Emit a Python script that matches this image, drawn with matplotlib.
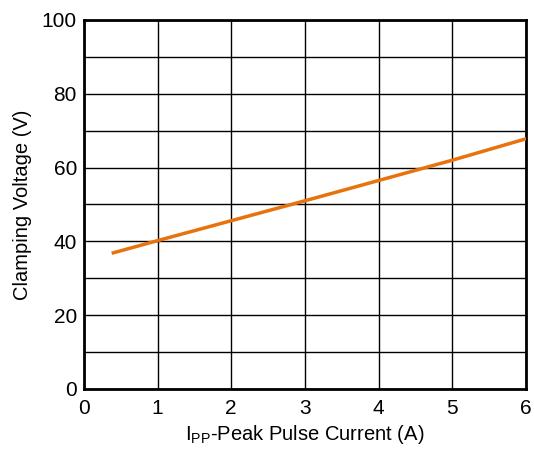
import matplotlib
matplotlib.use('Agg')
import matplotlib.pyplot as plt

# values
current = [0.4, 1, 2, 3, 4, 5, 6]
voltage = [36.9, 40.2, 45.6, 51.0, 56.5, 62.0, 67.8]

x_ticks = [0, 1, 2, 3, 4, 5, 6]
y_ticks = [0, 20, 40, 60, 80, 100]
y_grid = [10, 30, 50, 70, 90]

plt.rcParams['font.family'] = ['Liberation Sans', 'DejaVu Sans']
plt.rcParams['mathtext.fontset'] = 'custom'
plt.rcParams['mathtext.rm'] = 'Liberation Sans'

fig = plt.figure(figsize=(5.34, 4.5), dpi=100)
ax = fig.add_axes([0.157, 0.1356, 0.828, 0.82])

ax.plot(current, voltage, color='#e8720c', linewidth=2.5, zorder=3)

ax.set_xlim(0, 6)
ax.set_ylim(0, 100)
ax.set_xticks(x_ticks)
ax.set_yticks(y_ticks)
ax.set_yticks(y_grid, minor=True)
ax.grid(True, which='both', color='black', linewidth=1)
ax.tick_params(which='both', length=0, labelsize=15, colors='black')
ax.tick_params(axis='x', pad=7)
ax.tick_params(axis='y', pad=5)

for s in ax.spines.values():
    s.set_linewidth(2)
    s.set_color('black')

ax.set_xlabel(r'I$_{\mathregular{PP}}$-Peak Pulse Current (A)', fontsize=14.5, labelpad=4)
ax.set_ylabel('Clamping Voltage (V)', fontsize=14.5, labelpad=7)

fig.savefig('out.png', dpi=100)
